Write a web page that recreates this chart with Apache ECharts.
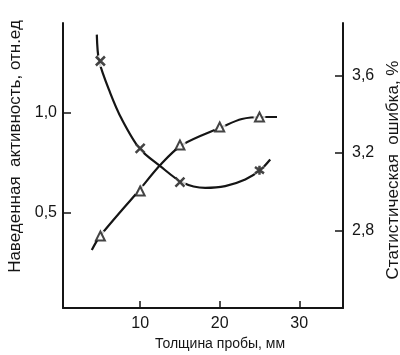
<!DOCTYPE html>
<html>
<head>
<meta charset="utf-8">
<script src="https://cdn.jsdelivr.net/npm/echarts@6/dist/echarts.min.js"></script>
<style>
  html, body { margin: 0; padding: 0; background: #fff; }
  #chart { width: 400px; height: 355px; }
</style>
</head>
<body>
<div id="chart"></div>
<script>
// толщина пробы, мм (точки измерений)
var thickness = [5, 10, 15, 20, 25];
// наведенная активность, отн.ед (треугольники)
var activity = [0.385, 0.61, 0.84, 0.93, 0.98];
// статистическая ошибка, % (крестики), точки при 5, 10, 15, 25 мм
var errorX = [5, 10, 15, 25];
var errorVal = [3.674, 3.223, 3.049, 3.111];
// кривые
var activityCurveX = [3.92, 4.97, 9.79, 12.52, 15.25, 20.28, 22.79, 25.31, 27.2];
var activityCurveY = [0.315, 0.385, 0.61, 0.74, 0.84, 0.93, 0.97, 0.98, 0.98];
var errorCurveX = [4.55, 4.84, 6.23, 7.70, 9.91, 12.52, 15.25, 18.18, 20.69, 23.21, 25.09, 26.35];
var errorCurveY = [3.81, 3.674, 3.51, 3.373, 3.223, 3.132, 3.049, 3.02, 3.029, 3.063, 3.111, 3.166];
// деления осей
var xTicks = [10, 20, 30];
var leftTicks = [0.5, 1.0];
var rightTicks = [2.8, 3.2, 3.6];

function zip(a, b) {
    return a.map(function (v, i) { return [v, b[i]]; });
}

var ink = '#151515';
var font = 'Liberation Sans, Arial, sans-serif';
var crossPath = 'path://M0,0L10,10M10,0L0,10';
var starPath = 'path://M0,0L10,10M10,0L0,10M5,-2L5,12';

var chart = echarts.init(document.getElementById('chart'));

function yAxisBase(min, max, ticks, pos) {
    return {
        type: 'value',
        position: pos,
        min: min,
        max: max,
        axisLine: { show: true, lineStyle: { color: ink, width: 2 } },
        axisTick: { show: true, inside: true, length: 8, customValues: ticks, lineStyle: { color: ink, width: 1.5 } },
        axisLabel: {
            customValues: ticks,
            color: ink,
            fontSize: 16,
            fontFamily: font,
            margin: pos == 'left' ? 6 : 9,
            formatter: function (v) { return v.toFixed(1).replace('.', ','); }
        },
        splitLine: { show: false }
    };
}

var left = yAxisBase(0.025, 1.45, leftTicks, 'left');
left.name = 'Наведенная  активность, отн.ед';
left.nameLocation = 'middle';
left.nameRotate = 90;
left.nameGap = 38;
left.nameTextStyle = { color: ink, fontSize: 17, fontFamily: font, padding: [0, 0, 0, 38] };

var right = yAxisBase(2.4, 3.87, rightTicks, 'right');
right.name = 'Статистическая  ошибка, %';
right.nameLocation = 'middle';
right.nameRotate = 90;
right.nameGap = 37;
right.nameTextStyle = { color: ink, fontSize: 17, fontFamily: font, padding: [0, 9, 0, 0] };

var option = {
    backgroundColor: '#fff',
    animation: false,
    grid: { left: 63, right: 57, top: 23, bottom: 47, outerBoundsMode: 'none', containLabel: false },
    xAxis: {
        type: 'value',
        min: 0.3,
        max: 35.5,
        axisLine: { show: true, lineStyle: { color: ink, width: 2 } },
        axisTick: { show: true, inside: true, length: 7, customValues: xTicks, lineStyle: { color: ink, width: 1.5 } },
        axisLabel: { customValues: xTicks, color: ink, fontSize: 16, fontFamily: font, margin: 8 },
        splitLine: { show: false },
        name: 'Толщина пробы, мм',
        nameLocation: 'middle',
        nameGap: 28,
        nameTextStyle: { color: ink, fontSize: 14, fontFamily: font, padding: [0, 0, 0, 34] }
    },
    yAxis: [left, right],
    series: [{
        type: 'line',
        yAxisIndex: 0,
        smooth: 0.3,
        showSymbol: false,
        lineStyle: { color: ink, width: 2.2 },
        data: zip(activityCurveX, activityCurveY),
        z: 2
    }, {
        type: 'line',
        yAxisIndex: 1,
        smooth: 0.3,
        showSymbol: false,
        lineStyle: { color: ink, width: 2.2 },
        data: zip(errorCurveX, errorCurveY),
        z: 2
    }, {
        // белые просветы вокруг значков
        type: 'scatter',
        yAxisIndex: 0,
        symbol: 'circle',
        symbolSize: 12,
        itemStyle: { color: '#fff' },
        data: zip(thickness, activity),
        z: 3
    }, {
        type: 'scatter',
        yAxisIndex: 1,
        symbol: 'circle',
        symbolSize: 12,
        itemStyle: { color: '#fff' },
        data: zip(errorX, errorVal),
        z: 3
    }, {
        type: 'scatter',
        yAxisIndex: 0,
        symbol: 'triangle',
        symbolSize: 9,
        itemStyle: { color: '#fff', borderColor: ink, borderWidth: 2 },
        data: zip(thickness, activity),
        z: 4
    }, {
        type: 'scatter',
        yAxisIndex: 1,
        symbol: function (v) { return v[0] == 25 ? starPath : crossPath; },
        symbolSize: 9,
        itemStyle: { color: 'none', borderColor: ink, borderWidth: 2.5 },
        data: zip(errorX, errorVal),
        z: 4
    }]
};

chart.setOption(option);
</script>
</body>
</html>
